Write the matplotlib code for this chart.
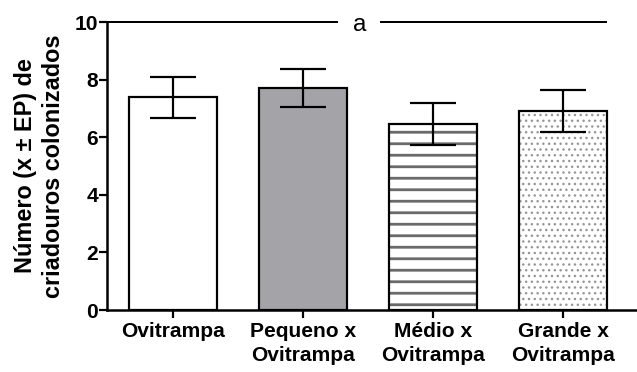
import numpy as np
import matplotlib
matplotlib.use('Agg')
import matplotlib.pyplot as plt

# Number of colonised breeding sites per treatment (mean ± SE)
categories = ['Ovitrampa', 'Pequeno x\nOvitrampa', 'Médio x\nOvitrampa', 'Grande x\nOvitrampa']
means = [7.38, 7.71, 6.45, 6.92]
errors = [0.72, 0.66, 0.73, 0.73]
y_ticks = [0, 2, 4, 6, 8, 10]

# Bar styling
fill_colors = ['white', '#a4a4a8', 'white', 'white']
hatches = [None, None, '-', '..']
hatch_colors = ['black', 'black', '#6a6a6a', '#959595']
hatch_widths = [1.0, 1.0, 2.8, 1.3]

# dpi chosen so hatch spacing comes out right; sizes below are given in pixels
DPI = 69
W, H = 637, 372


def pt(px):
    return px * 72 / DPI


plt.rcParams['font.family'] = ['Liberation Sans', 'DejaVu Sans']
plt.rcParams['font.weight'] = 'bold'

fig = plt.figure(figsize=(W / DPI, H / DPI), dpi=DPI)
ax = fig.add_axes([107 / W, 62 / H, 530 / W, 288 / H])

x = np.arange(len(categories))
width = 0.677

# filled / hatched layer, then black outline on top
for i in range(len(categories)):
    if hatches[i]:
        plt.rcParams['hatch.linewidth'] = pt(hatch_widths[i])
    b = ax.bar(x[i], means[i], width, color=fill_colors[i], edgecolor=hatch_colors[i],
               linewidth=0, hatch=hatches[i], zorder=1)
    for p in b:
        if hasattr(p, 'set_hatch_linewidth'):
            p.set_hatch_linewidth(pt(hatch_widths[i]))
ax.bar(x, means, width, fill=False, edgecolor='black', linewidth=pt(2.2), zorder=2)

ax.errorbar(x, means, yerr=errors, fmt='none', ecolor='black', elinewidth=pt(2.2),
            capsize=pt(23), capthick=pt(2.2), zorder=3)

# significance line with letter
ax.hlines(10, -0.508, 1.27, color='black', linewidth=pt(2), clip_on=False, zorder=4)
ax.hlines(10, 1.592, 3.338, color='black', linewidth=pt(2), clip_on=False, zorder=4)
ax.text(1.435, 9.88, 'a', ha='center', va='center', fontsize=pt(24),
        fontweight='normal', clip_on=False)

ax.set_xlim(-0.508, 3.569)
ax.set_ylim(0, 10)
ax.set_xticks(x)
ax.set_xticklabels(categories, linespacing=1.33)
ax.set_yticks(y_ticks)

ax.spines['top'].set_visible(False)
ax.spines['right'].set_visible(False)
for s in ['left', 'bottom']:
    ax.spines[s].set_linewidth(pt(2.5))

ax.tick_params(axis='both', length=pt(8), width=pt(2.2), labelsize=pt(21))
ax.tick_params(axis='y', pad=pt(1))
ax.tick_params(axis='x', pad=pt(4))

ax.set_ylabel('Número (x ± EP) de\ncriadouros colonizados', fontsize=pt(23.5),
              fontweight='bold', linespacing=1.3, labelpad=pt(9))

fig.savefig('out.png', dpi=DPI)
